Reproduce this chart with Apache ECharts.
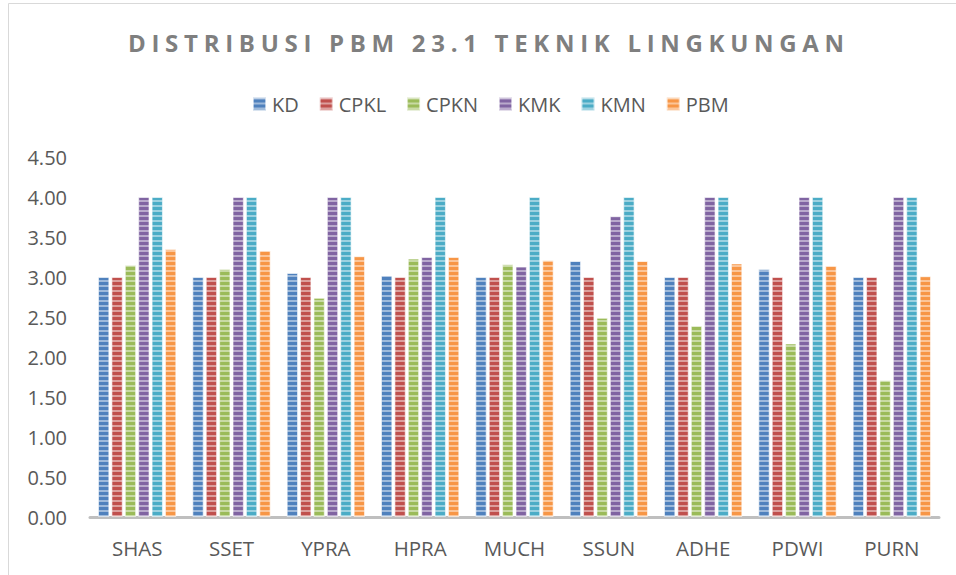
<!DOCTYPE html>
<html>
<head>
<meta charset="utf-8">
<script src="https://cdn.jsdelivr.net/npm/echarts@6/dist/echarts.min.js"></script>
<style>
	html, body { margin: 0; padding: 0; background: #fff; }
	#main { width: 956px; height: 575px; }
	/* spaced-out title like the original */
	#main text[style*="bold"] { letter-spacing: 5.7px; }
</style>
</head>
<body>
<div id="main"></div>
<script>
// data
var categories = ['SHAS', 'SSET', 'YPRA', 'HPRA', 'MUCH', 'SSUN', 'ADHE', 'PDWI', 'PURN'];
var seriesNames = ['KD', 'CPKL', 'CPKN', 'KMK', 'KMN', 'PBM'];
var kd   = [3.00, 3.00, 3.05, 3.02, 3.00, 3.20, 3.00, 3.10, 3.00];
var cpkl = [3.00, 3.00, 3.00, 3.00, 3.00, 3.00, 3.00, 3.00, 3.00];
var cpkn = [3.15, 3.10, 2.74, 3.23, 3.16, 2.49, 2.39, 2.17, 1.71];
var kmk  = [4.00, 4.00, 4.00, 3.25, 3.13, 3.76, 4.00, 4.00, 4.00];
var kmn  = [4.00, 4.00, 4.00, 4.00, 4.00, 4.00, 4.00, 4.00, 4.00];
var pbm  = [3.35, 3.33, 3.26, 3.25, 3.21, 3.20, 3.17, 3.14, 3.01];
var yTicks = [0, 0.5, 1, 1.5, 2, 2.5, 3, 3.5, 4, 4.5];

var colors = ['#4f81bd', '#c0504d', '#9bbb59', '#8064a2', '#4bacc6', '#f79646'];
var values = [kd, cpkl, cpkn, kmk, kmn, pbm];
var fontName = '"Open Sans", "Liberation Sans", sans-serif';

//横条纹
var stripeDecal = {
	symbol: 'rect',
	symbolSize: 1,
	dashArrayX: [[1, 0]],
	dashArrayY: [1.5, 2.5],
	rotation: 0,
	color: 'rgba(255,255,255,0.45)'
};

var series = [];
for (var i = 0; i < seriesNames.length; i++) {
	series.push({
		name: seriesNames[i],
		type: 'bar',
		barGap: '18%',
		barCategoryGap: '17%',
		itemStyle: {
			color: colors[i],
			borderColor: 'rgba(255,255,255,0.35)',
			borderWidth: 1,
			decal: stripeDecal
		},
		emphasis: { disabled: true },
		data: values[i]
	});
}

var chart = echarts.init(document.getElementById('main'), null, { renderer: 'svg' });
chart.setOption({
	animation: false,
	aria: { enabled: false },
	color: colors,
	textStyle: { fontFamily: fontName },
	title: {
		text: 'DISTRIBUSI PBM 23.1 TEKNIK LINGKUNGAN',
		left: 123,
		top: 25,
		padding: 5,
		textStyle: {
			fontFamily: fontName,
			fontSize: 24,
			fontWeight: 'bold',
			color: '#7f7f7f'
		}
	},
	legend: {
		data: seriesNames,
		left: 247,
		top: 89,
		icon: 'rect',
		itemWidth: 13,
		itemHeight: 13,
		itemGap: 20,
		textStyle: {
			fontFamily: fontName,
			fontSize: 20,
			color: '#595959',
			padding: [0, 0, 0, 1]
		}
	},
	grid: {
		left: 90,
		right: 17,
		top: 157,
		bottom: 58,
		containLabel: false
	},
	xAxis: {
		type: 'category',
		data: categories,
		axisLine: { lineStyle: { color: '#bfbfbf', width: 3 } },
		axisTick: { show: false },
		axisLabel: {
			margin: 20,
			fontFamily: fontName,
			fontSize: 20.5,
			color: '#595959'
		}
	},
	yAxis: {
		type: 'value',
		min: yTicks[0],
		max: yTicks[yTicks.length - 1],
		interval: 0.5,
		axisLine: { show: false },
		axisTick: { show: false },
		splitLine: { show: false },
		axisLabel: {
			margin: 23,
			fontFamily: fontName,
			fontSize: 20,
			color: '#595959',
			formatter: function (v) { return v.toFixed(2); }
		}
	},
	graphic: [{
		type: 'rect',
		silent: true,
		shape: { x: 8.5, y: 3.5, width: 1000, height: 1000 },
		style: { fill: 'none', stroke: '#d9d9d9', lineWidth: 1 }
	}],
	series: series
});
</script>
</body>
</html>
